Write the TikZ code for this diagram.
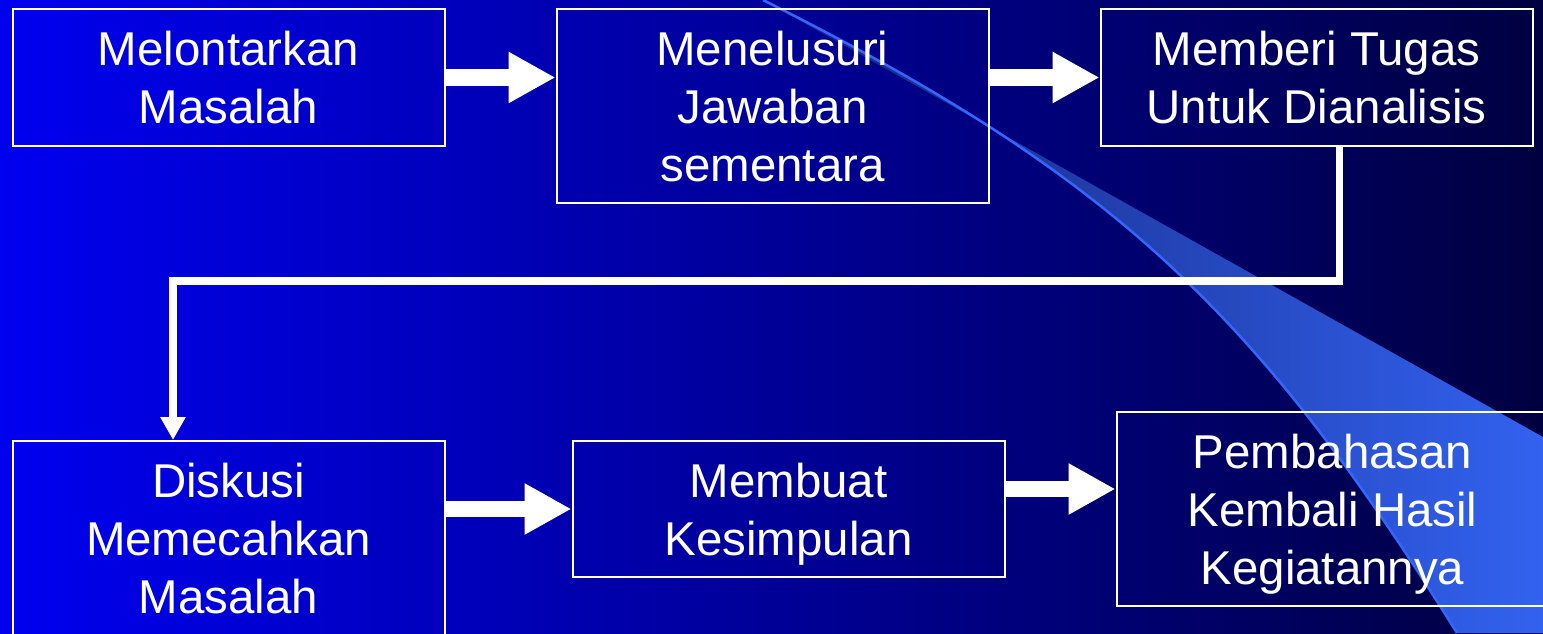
\documentclass[tikz,border=0pt]{standalone}
\usepackage{fontspec}
\setmainfont{Liberation Sans}
\usepackage{xcolor}
\usepackage{tikz}
\usetikzlibrary{arrows.meta, positioning}

\definecolor{bgleft}{RGB}{0,0,240}
\definecolor{bgright}{RGB}{0,0,64}
\definecolor{wedgeleft}{RGB}{20,35,120}
\definecolor{wedgeright}{RGB}{50,98,240}
\definecolor{swoosh}{RGB}{51,102,255}

\begin{document}
\begin{tikzpicture}[
    box/.style={rectangle, draw=white, line width=0.04cm, minimum width=8.64cm, minimum height=#1, text=white, font=\fontsize{27}{33}\selectfont, align=center, text depth=0pt},
    box/.default=2.74cm,
    arrow/.style={-{Triangle[length=0.94cm, width=0.96cm]}, line width=0.32cm, draw=white},
    link/.style={-{Triangle[length=0.46cm, width=0.48cm]}, line width=0.15cm, draw=white}
]
% Background and swoosh
\useasboundingbox (0,0) rectangle (30.86,12.66);
\shade[left color=bgleft, right color=bgright] (0,0) rectangle (30.86,12.66);
\shade[left color=wedgeleft, right color=wedgeright] (15.26,12.66) -- (30.86,3.92) -- (30.86,0) -- (29.14,0) .. controls (25.14,6.40) and (22.26,9.16) .. (15.26,12.66) -- cycle;
\draw[swoosh, line width=0.05cm] (15.26,12.66) .. controls (22.26,9.16) and (25.14,6.40) .. (29.14,0);

% Top row
\node[box] (lontar) at (4.57,11.11) {Melontarkan\\Masalah};
\node[box=3.88cm, right=2.2cm of lontar.north east, anchor=north west] (telusur) {Menelusuri\\Jawaban\\sementara};
\node[box, right=2.2cm of telusur.north east, anchor=north west] (tugas) {Memberi Tugas\\Untuk Dianalisis};

% Bottom row
\node[box=3.9cm] (diskusi) at (4.57,1.89) {Diskusi\\Memecahkan\\Masalah};
\node[box=2.72cm, right=2.52cm of diskusi.north east, anchor=north west] (simpul) {Membuat\\Kesimpulan};
\node[box=3.88cm, right=2.2cm of simpul] (bahas) {Pembahasan\\Kembali Hasil\\Kegiatannya};

% Arrows
\coordinate (turn) at (3.46,7.04);
\draw[arrow] (lontar.east) -- (lontar.east -| telusur.west);
\draw[arrow] (tugas.west -| telusur.east) -- (tugas.west);
\draw[link] ([xshift=0.46cm]tugas.south) |- (turn) -- (turn |- diskusi.north);
\draw[arrow] (simpul.west -| diskusi.east) -- (simpul.west);
\draw[arrow] ([yshift=0.4cm]simpul.east) -- ([yshift=0.4cm]simpul.east -| bahas.west);
\end{tikzpicture}
\end{document}
